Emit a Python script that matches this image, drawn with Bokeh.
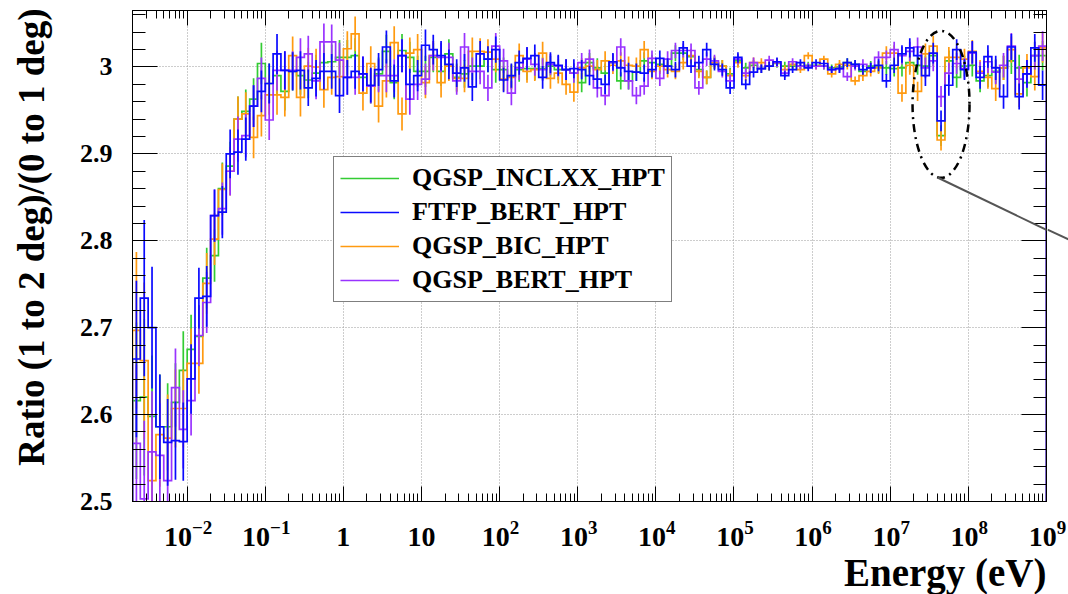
import numpy as np
from bokeh.plotting import figure
from bokeh.layouts import row, column
from bokeh.models import (Range1d, LogAxis, LinearAxis, FixedTicker, Legend,
                          LegendItem, Arrow, CustomJSTickFormatter)
from bokeh.core.properties import value
from bokeh.embed import file_html
from bokeh.resources import INLINE

# ---- binning: 117 log-uniform bins from 2 meV to 1 GeV ----
E_MIN, E_MAX = 2e-3, 1e9
N_BINS = 117
Y_MIN, Y_MAX = 2.5, 3.065

# ---- ratio per bin for each physics list ----
inclxx = [
    2.616, 2.620, 2.598, 2.586, 2.586, 2.614, 2.651, 2.675, 2.690, 2.757, 2.783, 2.860,
    2.886, 2.940, 2.949, 2.963, 3.004, 2.981, 2.990, 2.972, 2.995, 2.990, 2.985,
    2.993, 3.005, 3.006, 3.011, 3.011, 3.013, 2.988, 2.978, 2.992, 3.018, 2.982, 3.019,
    3.011, 2.995, 2.995, 3.011, 2.995, 3.015, 2.988, 2.992, 3.001, 3.001,
    3.009, 2.997, 2.997, 2.989, 2.997, 2.998, 2.998, 2.998, 3.001, 2.997, 2.997, 2.993,
    2.982, 3.005, 2.999, 2.993, 3.005, 2.984, 2.984, 2.994, 3.007, 3.005, 3.003, 3.001,
    3.016, 3.016, 3.012, 2.997, 2.988, 3.005, 3.001, 2.992, 3.007, 2.999, 3.002, 2.998,
    3.001, 3.004, 3.001, 3.001, 3.001, 3.002, 3.002, 3.001, 2.999, 3.000, 3.005, 3.003,
    2.995, 3.001, 3.000, 2.999, 2.998, 2.999, 3.005, 3.002, 3.001, 3.013, 2.921, 3.007,
    2.988, 3.001, 3.002, 2.984, 2.990, 2.995, 2.999, 3.007, 2.999, 2.982, 3.013, 3.013,
]
ftfp = [
    2.664, 2.734, 2.700, 2.586, 2.568, 2.570, 2.569, 2.641, 2.734, 2.736, 2.829, 2.833,
    2.900, 2.902, 2.917, 2.955, 2.972, 2.981, 3.015, 2.996, 2.995, 2.996, 2.976,
    2.987, 2.995, 2.995, 2.967, 2.988, 2.995, 2.992, 2.979, 2.997, 3.023, 2.984, 3.013,
    2.980, 2.990, 3.025, 3.020, 3.013, 3.003, 2.993, 2.999, 2.977, 3.015,
    3.009, 3.020, 2.985, 2.990, 3.005, 3.010, 3.013, 2.988, 3.005, 3.002, 2.997, 2.998,
    2.997, 2.990, 2.986, 2.980, 3.006, 2.999, 2.995, 2.994, 2.993, 2.997, 3.010,
    3.001, 2.997, 3.022, 3.001, 3.005, 3.020, 3.003, 2.997, 2.976, 3.011, 2.980, 2.994,
    2.998, 3.001, 3.006, 2.990, 2.997, 3.005, 2.999, 3.005, 3.004, 2.997, 2.998, 3.005, 3.003,
    2.997, 2.999, 3.002, 2.984, 3.002, 3.015, 3.022, 3.013, 2.990, 3.016, 2.938, 2.979,
    3.020, 2.997, 3.017, 2.988, 3.012, 2.999, 2.966, 3.023, 2.966, 2.992, 3.022, 2.979,
]
bic = [
    2.697, 2.662, 2.524, 2.577, 2.573, 2.607, 2.607, 2.659, 2.659, 2.751, 2.802, 2.859,
    2.880, 2.940, 2.946, 2.919, 2.944, 2.968, 2.968, 2.965, 3.013, 2.965, 3.001,
    3.000, 2.974, 2.988, 2.989, 3.021, 3.038, 2.970, 3.004, 2.955, 2.984, 3.028, 2.946,
    3.016, 3.020, 2.982, 3.013, 2.982, 3.001, 2.987, 2.987, 3.018, 3.018,
    3.017, 3.009, 2.986, 2.988, 3.013, 2.995, 2.997, 3.016, 2.987, 2.993, 2.980, 2.971,
    2.999, 3.001, 2.997, 3.007, 3.002, 3.007, 3.002, 3.001, 3.020, 2.995, 3.001, 2.997,
    2.995, 3.005, 3.013, 2.995, 2.988, 3.005, 3.001, 2.990, 3.005, 2.990, 3.005, 3.005,
    3.001, 3.005, 2.997, 3.003, 2.997, 3.013, 3.001, 3.009, 2.992, 3.003, 3.002, 2.984,
    2.990, 2.995, 2.999, 3.016, 3.016, 2.970, 3.002, 2.972, 3.015, 3.024, 2.916, 3.011,
    3.011, 3.009, 3.018, 2.995, 2.988, 2.975, 2.999, 3.020, 2.969, 2.999, 2.989, 3.022,
]
bert = [
    2.567, 2.503, 2.557, 2.553, 2.524, 2.631, 2.583, 2.616, 2.691, 2.729, 2.829, 2.837,
    2.880, 2.917, 2.921, 2.955, 2.987, 2.939, 2.996, 2.996, 2.996, 3.011, 3.015,
    2.984, 3.029, 3.029, 3.008, 2.988, 2.988, 2.992, 2.978, 2.990, 2.990, 2.990, 3.013,
    2.963, 2.980, 2.986, 3.013, 3.011, 3.011, 2.984, 3.023, 2.995, 2.995,
    2.976, 3.024, 3.007, 2.970, 2.999, 3.009, 3.003, 2.997, 3.003, 3.001, 2.997, 2.993,
    3.005, 3.009, 2.976, 2.967, 3.005, 3.023, 2.984, 2.967, 2.978, 3.010, 2.987, 3.009,
    3.019, 3.019, 3.019, 2.976, 3.009, 3.007, 2.995, 2.984, 3.009, 2.993, 3.005, 2.998,
    3.008, 3.005, 2.993, 3.006, 3.001, 3.001, 3.001, 3.001, 2.997, 2.998, 2.989, 3.001,
    3.003, 2.999, 3.011, 3.011, 3.020, 3.013, 3.018, 3.023, 2.999, 3.007, 2.966, 2.993,
    3.004, 2.998, 3.016, 2.993, 3.006, 2.994, 3.002, 3.024, 2.986, 2.992, 3.013, 3.024,
]
# statistical uncertainty per bin
err = [
    0.090, 0.090, 0.070, 0.060, 0.050, 0.045, 0.045, 0.040, 0.035, 0.035, 0.030, 0.030,
    0.028, 0.026, 0.025, 0.024, 0.024, 0.023, 0.023, 0.022, 0.022, 0.022, 0.021,
    0.021, 0.021, 0.020, 0.020, 0.020, 0.020, 0.020, 0.020, 0.019, 0.019, 0.019, 0.019,
    0.018, 0.018, 0.018, 0.017, 0.017, 0.017, 0.016, 0.016, 0.016, 0.015,
    0.015, 0.015, 0.014, 0.014, 0.014, 0.013, 0.013, 0.013, 0.012, 0.012, 0.012, 0.011,
    0.011, 0.011, 0.011, 0.011, 0.010, 0.010, 0.010, 0.010, 0.010, 0.009, 0.009, 0.009,
    0.009, 0.008, 0.008, 0.008, 0.008, 0.007, 0.007, 0.007, 0.006, 0.006, 0.006, 0.005,
    0.005, 0.005, 0.005, 0.004, 0.004, 0.004, 0.004, 0.004, 0.004, 0.005, 0.005, 0.005,
    0.006, 0.006, 0.007, 0.008, 0.009, 0.010, 0.011, 0.011, 0.012, 0.012, 0.012, 0.012,
    0.012, 0.012, 0.013, 0.013, 0.013, 0.014, 0.014, 0.015, 0.015, 0.016, 0.016, 0.017,
]

series_names = ["QGSP_INCLXX_HPT", "FTFP_BERT_HPT", "QGSP_BIC_HPT", "QGSP_BERT_HPT"]
series_values = [inclxx, ftfp, bic, bert]
series_colors = ["#33cc33", "#0a0aff", "#ff9a10", "#9933ff"]
draw_order = [0, 2, 3, 1]

x_decades = list(range(-2, 10))
y_ticks = [2.5, 2.6, 2.7, 2.8, 2.9, 3.0]
y_tick_labels = ["2.5", "2.6", "2.7", "2.8", "2.9", "3"]
x_title = "Energy (eV)"
y_title = "Ratio (1 to 2 deg)/(0 to 1 deg)"

for v in series_values + [err]:
    assert len(v) == N_BINS

edges = np.logspace(np.log10(E_MIN), np.log10(E_MAX), N_BINS + 1)
centers = np.sqrt(edges[:-1] * edges[1:])
err_a = np.asarray(err)

FONT = "Liberation Serif"
blank = CustomJSTickFormatter(code="return ''")

# layout geometry (page pixels)
TOTAL_W, TOTAL_H = 1068, 594
LEFT_W = 60                 # strip holding the vertical axis title
RIGHT_W = 21                # strip right of the frame (carries the pointer line)
MAIN_H = 515
BOT_H = TOTAL_H - MAIN_H
MAIN_W = TOTAL_W - LEFT_W - RIGHT_W
BORDER_L, BORDER_R, BORDER_T, BORDER_B = 72, 1, 10, 14
FRAME_W = MAIN_W - BORDER_L - BORDER_R
FRAME_LEFT = LEFT_W + BORDER_L
FRAME_BOTTOM = MAIN_H - BORDER_B
# pointer line leaving the highlight ellipse, in page pixels
PTR_START, PTR_END = (937.0, 177.0), (1068.0, 240.0)

# ---------------- main panel ----------------
p = figure(width=MAIN_W, height=MAIN_H, x_axis_type="log", title=None,
           x_range=Range1d(E_MIN, E_MAX), y_range=Range1d(Y_MIN, Y_MAX),
           output_backend="svg", toolbar_location=None,
           min_border_left=BORDER_L, min_border_right=BORDER_R,
           min_border_top=BORDER_T, min_border_bottom=BORDER_B,
           background_fill_color="white", border_fill_color="white",
           outline_line_color="black", outline_line_width=1)

x_ticker = FixedTicker(ticks=[10.0 ** d for d in x_decades],
                       minor_ticks=[m * 10.0 ** d for d in range(-3, 9) for m in range(2, 10)])
y_ticker = FixedTicker(ticks=y_ticks,
                       minor_ticks=[round(2.5 + 0.02 * i, 2) for i in range(29)])

# bottom / left axes with tick marks pointing into the frame
xa = p.xaxis[0]
xa.ticker = x_ticker
xa.formatter = blank
xa.major_tick_in, xa.major_tick_out = 15, 0
xa.minor_tick_in, xa.minor_tick_out = 8, 0
xa.major_label_text_font_size = "1px"
xa.major_label_standoff = 0
xa.axis_line_color = "black"

ya = p.yaxis[0]
ya.ticker = y_ticker
ya.major_tick_in, ya.major_tick_out = 25, 0
ya.minor_tick_in, ya.minor_tick_out = 13, 0
ya.major_label_overrides = dict(zip(y_ticks, y_tick_labels))
ya.major_label_text_font = FONT
ya.major_label_text_font_style = "bold"
ya.major_label_text_font_size = "26px"
ya.major_label_text_color = "black"
ya.major_label_standoff = 20
ya.axis_line_color = "black"

# mirrored tick marks on top and right
top = LogAxis(ticker=x_ticker, formatter=blank, major_tick_in=15, major_tick_out=0,
              minor_tick_in=8, minor_tick_out=0, major_label_text_font_size="1px",
              major_label_standoff=0, axis_line_color="black")
right = LinearAxis(ticker=y_ticker, formatter=blank, major_tick_in=25, major_tick_out=0,
                   minor_tick_in=13, minor_tick_out=0, major_label_text_font_size="1px",
                   major_label_standoff=0, axis_line_color="black")
p.add_layout(top, "above")
p.add_layout(right, "right")

p.xgrid.grid_line_color = "#9a9a9a"
p.xgrid.grid_line_dash = "1 2"
p.ygrid.grid_line_color = "#9a9a9a"
p.ygrid.grid_line_dash = "1 2"

# histograms drawn as step outlines with vertical error bars
renderers = {}
for i in draw_order:
    vals = np.asarray(series_values[i])
    xs = np.repeat(edges, 2)
    ys = np.concatenate([[Y_MIN], np.repeat(vals, 2), [Y_MIN]])
    r = p.line(xs, ys, line_color=series_colors[i], line_width=1.7, line_join="miter")
    p.segment(x0=centers, y0=vals - err_a, x1=centers, y1=vals + err_a,
              line_color=series_colors[i], line_width=1.7)
    renderers[i] = r

legend = Legend(items=[LegendItem(label=series_names[i], renderers=[renderers[i]])
                       for i in range(4)],
                location=(201, 199), margin=0, padding=6, spacing=4,
                glyph_width=59, glyph_height=20, label_standoff=13, label_height=20,
                label_text_font=FONT, label_text_font_style="bold",
                label_text_font_size="26px", label_text_color="black",
                border_line_color="black", border_line_width=1,
                background_fill_color="white", background_fill_alpha=1.0)
p.add_layout(legend)

# highlight around the dip near 40 MeV
hi = np.arange(N_BINS) > 90
dip = int(np.argmin(np.where(hi, np.asarray(bic), np.inf)))
p.ellipse(x=[centers[dip]], y=[2.957], width=57, height=147, width_units="screen",
          height_units="screen", fill_alpha=0, line_color="black", line_width=2.5,
          line_dash="8 5 2 5")
PTR_COLOR, PTR_W = "#555555", 2
p.add_layout(Arrow(end=None,
                   x_start=PTR_START[0] - FRAME_LEFT, y_start=FRAME_BOTTOM - PTR_START[1],
                   x_end=PTR_END[0] - FRAME_LEFT, y_end=FRAME_BOTTOM - PTR_END[1],
                   start_units="screen", end_units="screen",
                   line_color=PTR_COLOR, line_width=PTR_W))

# ---------------- strip right of the frame: rest of the pointer line ----------------
pr = figure(width=RIGHT_W, height=MAIN_H, title=None,
            x_range=Range1d(0, RIGHT_W), y_range=Range1d(0, MAIN_H),
            output_backend="svg", toolbar_location=None,
            x_axis_location=None, y_axis_location=None,
            min_border_left=0, min_border_right=0, min_border_top=0, min_border_bottom=0,
            outline_line_color=None, background_fill_color="white",
            border_fill_color="white")
pr.grid.visible = False
slope = (PTR_END[1] - PTR_START[1]) / (PTR_END[0] - PTR_START[0])
strip_x0 = TOTAL_W - RIGHT_W
pr.line(x=[0, RIGHT_W],
        y=[MAIN_H - (PTR_START[1] + slope * (strip_x0 - PTR_START[0])),
           MAIN_H - (PTR_START[1] + slope * (TOTAL_W - PTR_START[0]))],
        line_color=PTR_COLOR, line_width=PTR_W)

# ---------------- strip under the frame: decade labels and x title ----------------
lg0, lg1 = np.log10(E_MIN), np.log10(E_MAX)
bot_w = TOTAL_W - LEFT_W
bot_frame_w = bot_w - BORDER_L
x_end_ext = 10 ** (lg0 + (lg1 - lg0) * bot_frame_w / FRAME_W)
pb = figure(width=bot_w, height=BOT_H, x_axis_type="log", title=None,
            x_range=Range1d(E_MIN, x_end_ext), y_range=Range1d(0, BOT_H),
            output_backend="svg", toolbar_location=None,
            x_axis_location=None, y_axis_location=None,
            min_border_left=BORDER_L, min_border_right=0, min_border_top=0,
            min_border_bottom=0, outline_line_color=None,
            background_fill_color="white", border_fill_color="white")
pb.grid.visible = False

BASE_PX, EXP_PX, TITLE_PX = 28, 19, 39
base_y, exp_y, title_y = 58, 67, 22      # measured up from the page bottom
plain_x, plain_t = [], []
pow_x, pow_t, pow_off = [], [], []
for d in x_decades:
    if d in (0, 1):
        plain_x.append(10.0 ** d)
        plain_t.append(str(10 ** d))
    else:
        exp = ("\u2212" if d < 0 else "") + str(abs(d))
        w_exp = 0.5 * EXP_PX * len(str(abs(d))) + (0.57 * EXP_PX if d < 0 else 0)
        pow_x.append(10.0 ** d)
        pow_t.append(exp)
        pow_off.append((BASE_PX - w_exp) / 2 + 1)

pb.text(x=plain_x, y=[base_y] * len(plain_x), text=plain_t, text_align="center",
        text_baseline="alphabetic", text_font=value(FONT), text_font_style="bold",
        text_font_size=f"{BASE_PX}px", text_color="black")
pb.text(x=pow_x, y=[base_y] * len(pow_x), text=["10"] * len(pow_x), x_offset=pow_off,
        text_align="right", text_baseline="alphabetic", text_font=value(FONT),
        text_font_style="bold", text_font_size=f"{BASE_PX}px", text_color="black")
pb.text(x=pow_x, y=[exp_y] * len(pow_x), text=pow_t, x_offset=pow_off,
        text_align="left", text_baseline="alphabetic", text_font=value(FONT),
        text_font_style="bold", text_font_size=f"{EXP_PX}px", text_color="black")
pb.text(x=[E_MAX], y=[title_y], text=[x_title], text_align="right",
        text_baseline="alphabetic", text_font=value(FONT), text_font_style="bold",
        text_font_size=f"{TITLE_PX}px", text_color="black")

# ---------------- strip left of the frame: vertical y title ----------------
pl = figure(width=LEFT_W, height=TOTAL_H, title=None,
            x_range=Range1d(0, LEFT_W), y_range=Range1d(0, TOTAL_H),
            output_backend="svg", toolbar_location=None,
            x_axis_location=None, y_axis_location=None,
            min_border_left=0, min_border_right=0, min_border_top=0, min_border_bottom=0,
            outline_line_color=None, background_fill_color="white",
            border_fill_color="white")
pl.grid.visible = False
pl.text(x=[31], y=[TOTAL_H - 8], text=[y_title], angle=np.pi / 2, text_align="right",
        text_baseline="middle", text_font=value(FONT), text_font_style="bold",
        text_font_size="37px", text_color="black")

layout = row(pl, column(row(p, pr, spacing=0), pb, spacing=0), spacing=0)
open("out.html", "w").write(file_html(layout, INLINE))
